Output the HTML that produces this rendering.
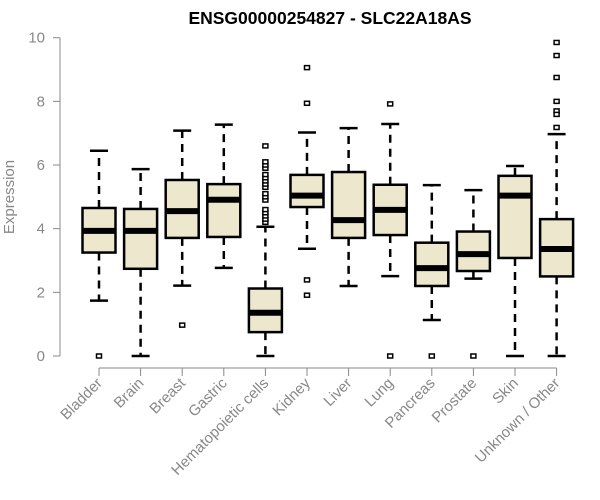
<!DOCTYPE html>
<html><head><meta charset="utf-8"><style>
body{margin:0;background:#fff}
svg{display:block;font-family:"Liberation Sans",Arial,sans-serif}
</style></head><body>
<svg id="chart" width="600" height="500">
<text x="330" y="24" text-anchor="middle" font-weight="bold" font-size="17.5" fill="#000">ENSG00000254827 - SLC22A18AS</text>
<text x="14" y="197" transform="rotate(-90 14 197)" text-anchor="middle" font-size="15" fill="#888">Expression</text>
<g id="g"></g>
</svg>
<script>
const categories=["Bladder","Brain","Breast","Gastric","Hematopoietic cells","Kidney","Liver","Lung","Pancreas","Prostate","Skin","Unknown / Other"];
const lowW=[1.74,0,2.21,2.77,0,3.37,2.20,2.51,1.13,2.43,0,0];
const q1=[3.25,2.74,3.71,3.74,0.75,4.68,3.71,3.80,2.20,2.67,3.08,2.50];
const med=[3.93,3.93,4.55,4.91,1.36,5.04,4.27,4.59,2.76,3.20,5.04,3.36];
const q3=[4.65,4.62,5.53,5.40,2.12,5.69,5.78,5.38,3.56,3.91,5.66,4.30];
const highW=[6.45,5.87,7.08,7.27,4.06,7.02,7.16,7.29,5.37,5.21,5.97,6.97];
const outliers=[[0],[],[0.97],[],[6.6,4.2,4.3,4.4,4.5,4.6,4.9,5.0,5.1,5.3,5.4,5.5,5.6,5.7,5.9,6.0,6.1],[9.06,7.94,2.39,1.91],[],[7.92,0],[0],[0],[],[9.85,9.44,8.75,8.0,7.70,7.59,7.18]];
const yTicks=[0,2,4,6,8,10];
const NS="http://www.w3.org/2000/svg";
const g=document.getElementById('g');
const X=i=>99+i*41.6;
const Y=v=>356-v*31.83;
function mk(t,a,p){const e=document.createElementNS(NS,t);for(const k in a)e.setAttribute(k,a[k]);(p||g).appendChild(e);return e;}
const ya=mk('line',{x1:60,x2:60,y1:Y(0),y2:Y(10),stroke:'#888','stroke-width':1});


yTicks.forEach(v=>{
 const t=mk('line',{x1:53,x2:60,y1:Y(v),y2:Y(v),stroke:'#888'});
 
 
 const l=mk('text',{x:45,y:Y(v)+5,'text-anchor':'end','font-size':15,fill:'#888'});
 l.textContent=v;
 
 
});
const xa=mk('line',{x1:X(0),x2:X(categories.length-1),y1:368,y2:368,stroke:'#888'});


categories.forEach((c,i)=>{
 const x=X(i),hw=16.5;
 const t=mk('line',{x1:x,x2:x,y1:368,y2:376,stroke:'#888'});
 
 
 const l=mk('text',{x:x+4,y:384,'text-anchor':'end','font-size':15,fill:'#888',transform:`rotate(-45 ${x+4} 384)`});
 l.textContent=c;
 
 
 const bg=mk('g',{});
 
 
 mk('line',{x1:x,x2:x,y1:Y(q3[i]),y2:Y(highW[i]),stroke:'#000','stroke-width':2.5,'stroke-dasharray':'8,6'},bg);
 mk('line',{x1:x,x2:x,y1:Y(q1[i]),y2:Y(lowW[i]),stroke:'#000','stroke-width':2.5,'stroke-dasharray':'8,6'},bg);
 mk('line',{x1:x-9,x2:x+9,y1:Y(highW[i]),y2:Y(highW[i]),stroke:'#000','stroke-width':2.5},bg);
 mk('line',{x1:x-9,x2:x+9,y1:Y(lowW[i]),y2:Y(lowW[i]),stroke:'#000','stroke-width':2.5},bg);
 mk('rect',{x:x-hw,y:Y(q3[i]),width:2*hw,height:Y(q1[i])-Y(q3[i]),fill:'#ede7cd',stroke:'#000','stroke-width':2.5},bg);
 mk('line',{x1:x-hw,x2:x+hw,y1:Y(med[i]),y2:Y(med[i]),stroke:'#000','stroke-width':6},bg);
 outliers[i].forEach(v=>{
  const o=mk('rect',{x:x-2.5,y:Y(v)-2,width:5,height:4,fill:'#fff',stroke:'#000','stroke-width':1.5},bg);
  
  
 });
});
</script>
</body></html>
